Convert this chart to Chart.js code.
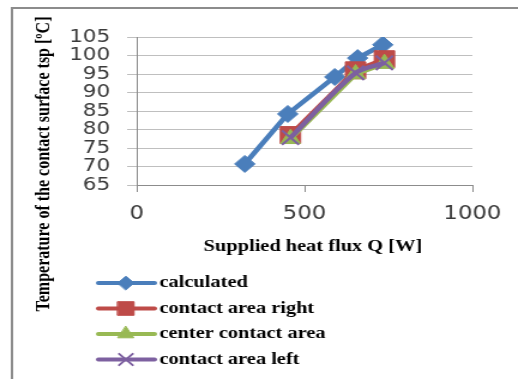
<!DOCTYPE html>
<html>
<head>
<meta charset="utf-8">
<script src="https://cdn.jsdelivr.net/npm/chart.js@4/dist/chart.umd.min.js"></script>
<style>
  html, body { margin: 0; padding: 0; background: #fff; overflow: hidden; }
  #wrap { width: 518px; height: 379px; overflow: hidden; }
  #c { display: block; transform: scaleX(1.199); transform-origin: 0 0; }
</style>
</head>
<body>
<div id="wrap"><canvas id="c" width="432" height="379"></canvas></div>
<script>
// Supplied heat flux Q [W] and contact surface temperature tsp [ºC]
const seriesNames = ['calculated', 'contact area right', 'center contact area', 'contact area left'];
const qCalculated = [322, 450, 590, 658, 733];
const tCalculated = [70.7, 84.2, 94.2, 99.3, 102.9];
const qMeasured = [458, 652, 738];
const tRight = [78.5, 96, 99];
const tCenter = [77.5, 95, 97.8];
const tLeft = [77.8, 95.3, 98];
const xTicks = [0, 500, 1000];
const yTicks = [65, 70, 75, 80, 85, 90, 95, 100, 105];

const toPoints = (xs, ys) => xs.map((x, i) => ({ x: x, y: ys[i] }));

const colors = ['#4a7ebb', '#be4b48', '#98b954', '#7d60a0'];
const styles = [
  { pointStyle: 'rectRot', radius: 8.5 },
  { pointStyle: 'rect', radius: 12 },
  { pointStyle: 'triangle', radius: 9.5 },
  { pointStyle: 'crossRot', radius: 10 }
];

const datasets = [
  { data: toPoints(qCalculated, tCalculated), order: 3, tension: 0 },
  { data: toPoints(qMeasured, tRight), order: 2, tension: 0 },
  { data: toPoints(qMeasured, tCenter), order: 1, tension: 0 },
  { data: toPoints(qMeasured, tLeft), order: 0, tension: 0.3 }
].map((d, i) => Object.assign(d, {
  label: seriesNames[i],
  borderColor: colors[i],
  backgroundColor: colors[i],
  pointBackgroundColor: colors[i],
  pointBorderColor: colors[i],
  pointBorderWidth: styles[i].pointStyle === 'crossRot' ? 2 : 1,
  pointStyle: styles[i].pointStyle,
  pointRadius: styles[i].radius,
  pointHoverRadius: styles[i].radius,
  borderWidth: 4.5,
  showLine: true,
  fill: false
}));

// Outer frame, axis titles and the stacked legend below the plot
const decorations = {
  id: 'decorations',
  beforeDraw(chart) {
    const ctx = chart.ctx;
    ctx.save();
    ctx.strokeStyle = '#8c8c8c';
    ctx.lineWidth = 2;
    ctx.beginPath();
    ctx.moveTo(10, 379);
    ctx.lineTo(10, 8);
    ctx.lineTo(432, 8);
    ctx.stroke();
    ctx.restore();
  },
  afterDraw(chart) {
    const ctx = chart.ctx;
    ctx.save();
    ctx.fillStyle = '#000';
    ctx.textBaseline = 'middle';

    // y-axis title
    ctx.font = 'bold 16px "Liberation Serif", "Times New Roman", serif';
    ctx.textAlign = 'center';
    ctx.save();
    ctx.translate(37, 164);
    ctx.rotate(-Math.PI / 2);
    ctx.fillText('Temperature of the contact surface tsp [ºC]', 0, 0);
    ctx.restore();

    // x-axis title
    ctx.font = 'bold 17px "Liberation Serif", "Times New Roman", serif';
    ctx.fillText('Supplied heat flux Q [W]', 261, 247);

    // legend
    const rowY = [283, 308.5, 334, 359.5];
    const x0 = 82, x1 = 129, xm = 105;
    chart.data.datasets.forEach((ds, i) => {
      const y = rowY[i];
      ctx.strokeStyle = ds.borderColor;
      ctx.lineWidth = 4;
      ctx.lineCap = 'round';
      ctx.beginPath();
      ctx.moveTo(x0, y);
      ctx.lineTo(x1, y);
      ctx.stroke();
      ctx.fillStyle = ds.pointBackgroundColor;
      ctx.strokeStyle = ds.pointBorderColor;
      ctx.lineWidth = ds.pointBorderWidth;
      Chart.helpers.drawPoint(ctx, {
        pointStyle: ds.pointStyle,
        radius: ds.pointRadius * 0.8,
        borderWidth: ds.pointBorderWidth,
        rotation: 0
      }, xm, y);
      ctx.fillStyle = '#000';
      ctx.textAlign = 'left';
      ctx.font = 'bold 17px "Liberation Serif", "Times New Roman", serif';
      ctx.fillText(ds.label, 133, y);
    });
    ctx.restore();
  }
};

new Chart(document.getElementById('c'), {
  type: 'line',
  data: { datasets: datasets },
  plugins: [decorations],
  options: {
    responsive: false,
    animation: false,
    events: [],
    layout: { padding: { left: 0, top: 37, right: 38, bottom: 100 } },
    plugins: { legend: { display: false }, tooltip: { enabled: false } },
    scales: {
      x: {
        type: 'linear',
        min: 0,
        max: 1000,
        afterBuildTicks: (s) => { s.ticks = xTicks.map(v => ({ value: v })); },
        afterFit: (s) => { s.height = 94; },
        ticks: {
          autoSkip: false,
          maxRotation: 0,
          callback: (v) => String(v),
          color: '#3a3a3a',
          font: { family: '"DejaVu Sans", sans-serif', size: 19 },
          padding: 11
        },
        grid: { drawOnChartArea: false, drawTicks: true, tickLength: 7, color: '#8c8c8c' },
        border: { display: true, color: '#8c8c8c', width: 1 }
      },
      y: {
        min: 65,
        max: 105,
        afterBuildTicks: (s) => { s.ticks = yTicks.map(v => ({ value: v })); },
        afterFit: (s) => { s.width = 114; },
        ticks: {
          autoSkip: false,
          callback: (v) => String(v),
          color: '#3a3a3a',
          font: { family: '"DejaVu Sans", sans-serif', size: 18, lineHeight: 1 },
          padding: 14
        },
        grid: { color: '#bfbfbf', drawTicks: true, tickLength: 8, lineWidth: 1 },
        border: { display: true, color: '#8c8c8c', width: 1 }
      }
    }
  }
});
</script>
</body>
</html>
